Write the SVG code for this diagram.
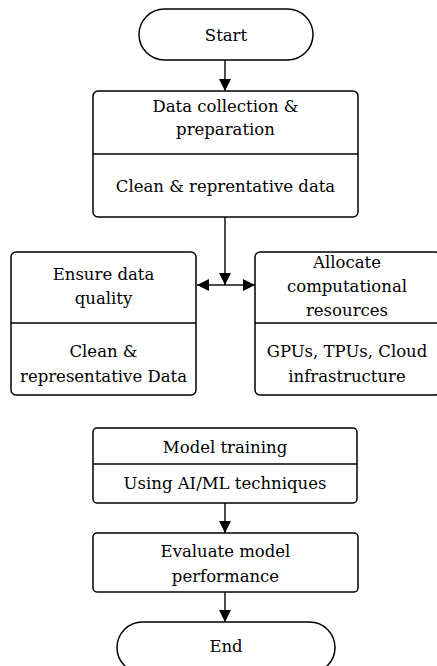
<svg xmlns="http://www.w3.org/2000/svg" width="437" height="666" viewBox="0 0 437 666">
<style>
.b{fill:#fff;stroke:#000;stroke-width:1.5}
.l{stroke:#000;stroke-width:1.4;fill:none}
text{font-size:16.5px;fill:#000;text-anchor:middle;font-family:"DejaVu Serif",serif}
</style>
<defs>
<marker id="ah" markerWidth="12" markerHeight="12" refX="12" refY="6" orient="auto" markerUnits="userSpaceOnUse">
<path d="M0,0 L12,6 L0,12 Z" fill="#000"/>
</marker>
</defs>
<rect width="437" height="666" fill="#fff"/>
<g id="connectors">
<path class="l" d="M225,60 V91" marker-end="url(#ah)"/>
<path class="l" d="M225,217 V285" marker-end="url(#ah)"/>
<path class="l" d="M225,285 H197" marker-end="url(#ah)"/>
<path class="l" d="M225,285 H255" marker-end="url(#ah)"/>
<path class="l" d="M225,503 V533" marker-end="url(#ah)"/>
<path class="l" d="M225,592 V622" marker-end="url(#ah)"/>
</g>
<g id="start">
<rect class="b" x="139" y="9" width="174" height="51" rx="25.5"/>
<text x="226" y="41">Start</text>
</g>
<g id="data">
<rect class="b" x="93" y="91" width="265" height="126" rx="5"/>
<line class="l" x1="93" y1="154" x2="358" y2="154"/>
<text x="225.5" y="112">Data collection &amp;</text>
<text x="225.5" y="135">preparation</text>
<text x="225.5" y="192">Clean &amp; reprentative data</text>
</g>
<g id="quality">
<rect class="b" x="11" y="252" width="185" height="143" rx="5"/>
<line class="l" x1="11" y1="323" x2="196" y2="323"/>
<text x="103.5" y="280">Ensure data</text>
<text x="103.5" y="304">quality</text>
<text x="103.5" y="357">Clean &amp;</text>
<text x="103.5" y="382">representative Data</text>
</g>
<g id="resources">
<rect class="b" x="255" y="252" width="185" height="143" rx="5"/>
<line class="l" x1="255" y1="323" x2="440" y2="323"/>
<text x="347" y="268">Allocate</text>
<text x="347" y="292">computational</text>
<text x="347" y="316">resources</text>
<text x="347" y="357">GPUs, TPUs, Cloud</text>
<text x="347" y="382">infrastructure</text>
</g>
<g id="training">
<rect class="b" x="93" y="428" width="264" height="75" rx="4"/>
<line class="l" x1="93" y1="464" x2="357" y2="464"/>
<text x="225" y="453">Model training</text>
<text x="225" y="489">Using AI/ML techniques</text>
</g>
<g id="evaluate">
<rect class="b" x="93" y="533" width="265" height="59" rx="4"/>
<text x="225.5" y="557">Evaluate model</text>
<text x="225.5" y="582">performance</text>
</g>
<g id="end">
<rect class="b" x="117" y="622" width="218" height="51" rx="25.5"/>
<text x="226" y="652">End</text>
</g>
</svg>
